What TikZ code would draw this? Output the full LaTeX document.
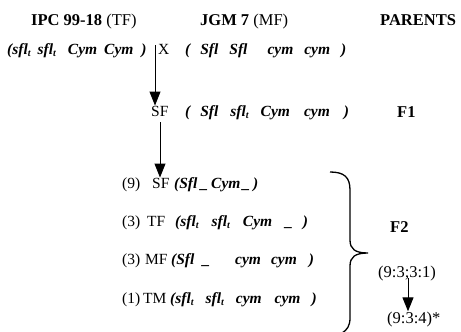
\documentclass[tikz,border=0pt]{standalone}
\usepackage{fontspec}
\setmainfont{Liberation Serif}
\usetikzlibrary{arrows.meta}
\newcommand\gt[1]{\textbf{\textit{#1}}}
\newcommand\lsub[1]{\raisebox{-0.35ex}{\fontsize{10}{10}\selectfont #1}}
\newcommand\gp[1]{\hspace{#1pt}}
\tikzset{
  txt/.style={anchor=base west, inner sep=0pt, font=\fontsize{15.5}{18}\selectfont},
  head/.style={anchor=base west, inner sep=0pt, font=\fontsize{16.5}{19}\selectfont},
  arr/.style={line width=1pt, -{Triangle[width=11pt,length=14pt]}},
  brace/.style={line width=1.3pt}
}
\begin{document}
\begin{tikzpicture}[x=1pt, y=-1pt]
\useasboundingbox (0,0) rectangle (461,332);
% column headers
\node[head] (h1) at (31,25) {\textbf{IPC 99-18} (TF)};
\node[head] (h2) at (200,25) {\textbf{JGM 7} (MF)};
\node[head] (h3) at (380,25) {\textbf{PARENTS}};
% parental cross
\node[txt] (p1) at (7,54) {\gt{(sfl\lsub{t}\gp{7}sfl\lsub{t}\gp{12}Cym\gp{7}Cym\gp{8})}};
\node[txt] (x)  at (158,54) {X};
\node[txt] (p2) at (185,54) {\gt{(\gp{10}Sfl\gp{11}Sfl\gp{20}cym\gp{11}cym\gp{11})}};
\coordinate (a1) at (155,45);
% F1 generation
\node[txt] (sf1) at (151,116) {SF};
\node[txt] (g1)  at (185,116) {\gt{(\gp{10}Sfl\gp{12}sfl\lsub{t}\gp{12}Cym\gp{14}cym\gp{14})}};
\node[head] (f1)  at (397,117) {\textbf{F1}};
% F2 classes
\node[txt] (n9) at (122,188) {(9)};
\node[txt] (sf2) at (152,188) {SF};
\node[txt] (g9) at (174,188) {\gt{(Sfl\gp{3}\_\gp{3}Cym\gp{2}\_\gp{3})}};
\node[txt] (n3a) at (122,226) {(3)};
\node[txt] (tf) at (147,226) {TF};
\node[txt] (g3a) at (175,226) {\gt{(sfl\lsub{t}\gp{13}sfl\lsub{t}\gp{13}Cym\gp{13}\_\gp{10})}};
\node[txt] (n3b) at (122,264) {(3)};
\node[txt] (mf) at (145,264) {MF};
\node[txt] (g3b) at (171,264) {\gt{(Sfl\gp{8}\_\gp{25}cym\gp{10}cym\gp{12})}};
\node[txt] (n1) at (122,303) {(1)};
\node[txt] (tm) at (143,303) {TM};
\node[txt] (g1b) at (170,303) {\gt{(sfl\lsub{t}\gp{12}sfl\lsub{t}\gp{12}cym\gp{13}cym\gp{11})}};
% F2 label and ratios
\node[head] (f2) at (390,232) {\textbf{F2}};
\node[head] (r1) at (378,277) {(9:3;3:1)};
\node[head] (r2) at (387,323) {(9:3:4)*};
% arrows
\draw[arr] (a1) -- (a1 |- sf1.north);
\coordinate (a2) at (160,122);
\draw[arr] (a2) -- (a2 |- sf2.north);
\coordinate (a3) at (408,278);
\draw[arr] (a3) -- (a3 |- r2.north);
% curly brace grouping the F2 classes
\draw[brace] (330,172) .. controls (344,172) and (350,177) .. (350,190)
  -- (350,240) .. controls (350,249) and (355,253) .. (368,253)
  .. controls (355,253) and (350,257) .. (350,266)
  -- (350,318) .. controls (350,326) and (347,330) .. (342,333);
\end{tikzpicture}
\end{document}
